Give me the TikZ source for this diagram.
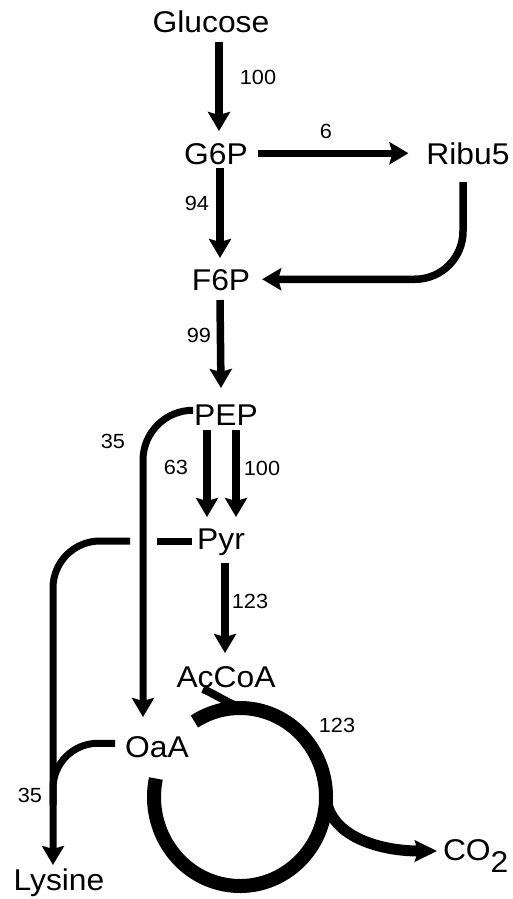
\documentclass[tikz,border=0pt]{standalone}
\usepackage{fontspec}
\setmainfont{Liberation Sans}[FakeStretch=1.06]
\usetikzlibrary{arrows.meta,calc}
\begin{document}
\begin{tikzpicture}[x=1pt,y=-1pt,
  met/.style={anchor=base, inner sep=0pt, outer sep=0pt, text height=21.5pt,
              text depth=0pt, font=\fontsize{30}{36}\selectfont},
  flux/.style={inner sep=0pt, font=\fontsize{20.5}{24}\selectfont},
  arr/.style={line width=7.5pt, -{Stealth[length=19pt,width=22pt,inset=3pt]}},
  link/.style={line width=7pt},
  cyc/.style={line width=14pt}
]
\useasboundingbox[fill=white] (0,0) rectangle (512,899);

% metabolites
\node[met] (Glucose) at (211,33)  {Glucose};
\node[met] (G6P)     at (216,164) {G6P};
\node[met] (Ribu5)   at (468,164) {Ribu5};
\node[met] (F6P)     at (221,290) {F6P};
\node[met] (PEP)     at (226,425) {PEP};
\node[met] (Pyr)     at (221,549) {Pyr};
\node[met] (AcCoA)   at (226,687) {AcCoA};
\node[met] (OaA)     at (157,757) {OaA};
\node[met] (Lysine)  at (59,890)  {Lysine};
\node[met, anchor=base west] (CO2) at (443,860) {CO\raisebox{-12pt}{2}};

% flux values
\node[flux] (f1)  at (258,77)  {100};
\node[flux] (f2)  at (326,131) {6};
\node[flux] (f3)  at (197,203) {94};
\node[flux] (f4)  at (199,335) {99};
\node[flux] (f5)  at (113,441) {35};
\node[flux] (f6)  at (176,467) {63};
\node[flux] (f7)  at (262,468) {100};
\node[flux] (f8)  at (250,601) {123};
\node[flux] (f9)  at (337,725) {123};
\node[flux] (f10) at (30,795)  {35};

% glycolysis and pentose phosphate shunt
\draw[arr] ($(Glucose.south)+(8,9)$) -- ($(G6P.north)+(3,-11.5)$);
\draw[arr] ($(G6P.south)+(4,4)$) -- ($(F6P.north)+(-1,-10.5)$);
\draw[arr] ($(G6P.east)+(10,0)$) -- ($(Ribu5.west)+(-18,0)$);
\draw[arr, rounded corners=48pt] ($(Ribu5.south)+(-5,18)$) |- ($(F6P.east)+(12,0)$);
\draw[arr] ($(F6P.south)+(-1,10)$) -- ($(PEP.north)+(-5,-15.5)$);
\draw[arr] ($(PEP.south)+(-19,5)$) -- ($(Pyr.north)+(-14,-10.5)$);
\draw[arr] ($(PEP.south)+(10,5)$) -- ($(Pyr.north)+(15,-10.5)$);
\draw[arr] ($(Pyr.south)+(4,14)$) -- ($(AcCoA.north)+(-1,-12.5)$);

% anaplerosis and lysine branch
\draw[arr, line width=7pt, rounded corners=50pt] ($(PEP.west)+(-3,-4)$) -| ($(OaA.north)+(-14,-18.5)$);
\coordinate (gapR) at (157,541);
\coordinate (gapL) at (130,541);
\draw[link] ($(Pyr.west)+(-5,2.75)$) -- (gapR);
\draw[arr, line width=7pt, rounded corners=47pt] (gapL) -| ($(Lysine.north)+(-6,-3.5)$);
\coordinate (join) at (53,805);
\draw[link, rounded corners=45pt] ($(OaA.west)+(-10,-3)$) -| (join);

% TCA cycle
\coordinate (tca) at (240,797);
\draw[line width=8pt] ($(AcCoA.south)+(-23,2)$) .. controls +(18,8) and +(-14,0) .. ($(tca)+(8,-89)$);
\draw[cyc] (tca) ++(122:86pt and 89pt)
  arc[start angle=122, end angle=-192, x radius=86pt, y radius=89pt];
\draw[line width=11pt, -{Stealth[length=22pt,width=21pt,inset=3pt]}]
  ($(tca)+(86,0)$) .. controls +(3,38) and +(-60,0) .. ($(CO2.base west)+(-6,-9)$);
\end{tikzpicture}
\end{document}
